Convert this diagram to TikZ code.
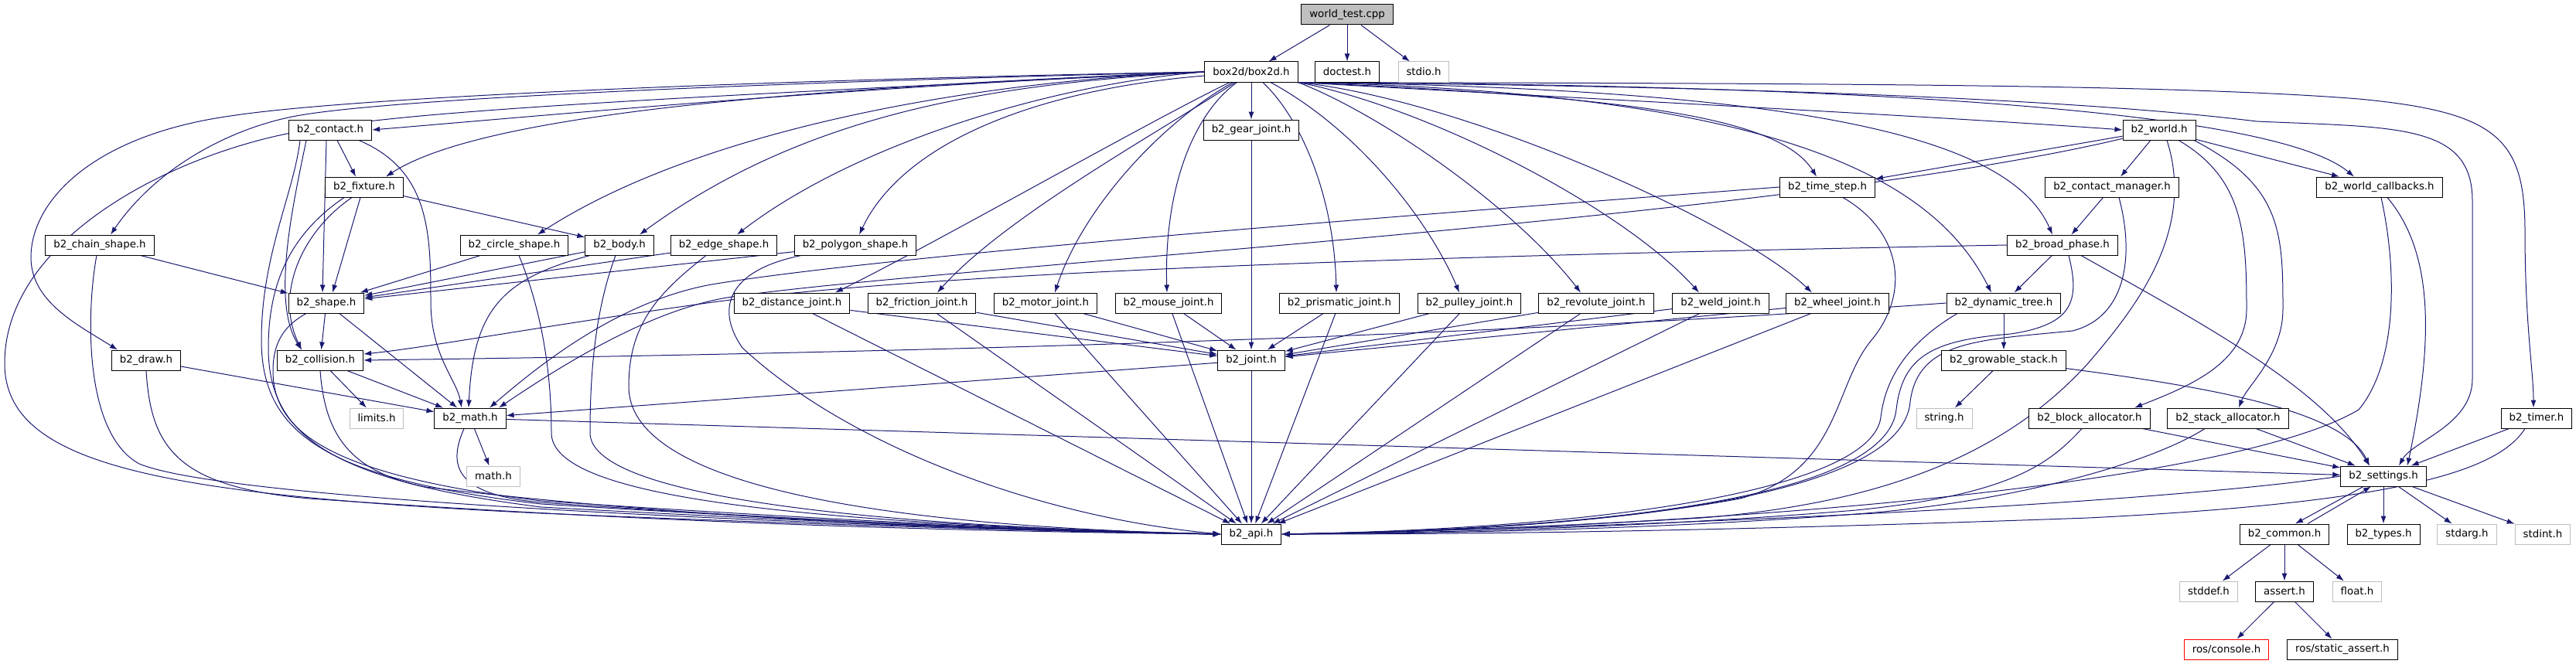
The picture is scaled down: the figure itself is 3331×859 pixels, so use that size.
\documentclass[tikz,border=0pt]{standalone}
\usepackage{fontspec}
\setmainfont{DejaVu Sans}
\usetikzlibrary{arrows.meta,backgrounds}
\definecolor{edgeblue}{HTML}{191970}
\definecolor{sysgray}{HTML}{BFBFBF}

\begin{document}
\begin{tikzpicture}[x=1pt, y=-1pt,
  hdr/.style={draw=black, line width=1pt, fill=white, font=\fontsize{13.33}{15}\selectfont, inner xsep=10.5pt, inner ysep=0pt, minimum height=26pt},
  sys/.style={hdr, draw=sysgray},
  inc/.style={draw=edgeblue, line width=1pt, -{Latex[length=10pt,width=7pt]}}]
\useasboundingbox (0,0) rectangle (3331,859);

\node[hdr, fill=sysgray] (wt) at (1742,19) {world\_test.cpp};
\node[hdr] (bx) at (1618,93) {box2d/box2d.h};
\node[hdr] (doc) at (1742,93) {doctest.h};
\node[sys] (stdio) at (1841,93) {stdio.h};

\node[hdr] (contact) at (427,168) {b2\_contact.h};
\node[hdr] (gear) at (1618,168) {b2\_gear\_joint.h};
\node[hdr] (world) at (2792,168) {b2\_world.h};

\node[hdr] (fixture) at (471,242) {b2\_fixture.h};
\node[hdr] (tstep) at (2363,242) {b2\_time\_step.h};
\node[hdr] (cmgr) at (2731,242) {b2\_contact\_manager.h};
\node[hdr] (wcb) at (3077,242) {b2\_world\_callbacks.h};

\node[hdr] (chain) at (129,317) {b2\_chain\_shape.h};
\node[hdr] (circle) at (665,317) {b2\_circle\_shape.h};
\node[hdr] (body) at (801,317) {b2\_body.h};
\node[hdr] (edge) at (936,317) {b2\_edge\_shape.h};
\node[hdr] (poly) at (1106,317) {b2\_polygon\_shape.h};
\node[hdr] (bphase) at (2667,317) {b2\_broad\_phase.h};

\node[hdr] (shape) at (422,392) {b2\_shape.h};
\node[hdr] (dist) at (1024,392) {b2\_distance\_joint.h};
\node[hdr] (fric) at (1192,392) {b2\_friction\_joint.h};
\node[hdr] (motor) at (1352,392) {b2\_motor\_joint.h};
\node[hdr] (mouse) at (1511,392) {b2\_mouse\_joint.h};
\node[hdr] (prism) at (1732,392) {b2\_prismatic\_joint.h};
\node[hdr] (pulley) at (1900,392) {b2\_pulley\_joint.h};
\node[hdr] (revol) at (2064,392) {b2\_revolute\_joint.h};
\node[hdr] (weld) at (2225,392) {b2\_weld\_joint.h};
\node[hdr] (wheel) at (2376,392) {b2\_wheel\_joint.h};
\node[hdr] (dtree) at (2591,392) {b2\_dynamic\_tree.h};

\node[hdr] (draw) at (189,466) {b2\_draw.h};
\node[hdr] (coll) at (414,466) {b2\_collision.h};
\node[hdr] (joint) at (1618,466) {b2\_joint.h};
\node[hdr] (gstack) at (2591,466) {b2\_growable\_stack.h};

\node[sys] (limits) at (487,541) {limits.h};
\node[hdr] (math) at (608,541) {b2\_math.h};
\node[sys] (string) at (2514,541) {string.h};
\node[hdr] (balloc) at (2702,541) {b2\_block\_allocator.h};
\node[hdr] (salloc) at (2881,541) {b2\_stack\_allocator.h};
\node[hdr] (timer) at (3280,541) {b2\_timer.h};

\node[sys] (mathh) at (638,616) {math.h};
\node[hdr] (settings) at (3082,616) {b2\_settings.h};

\node[hdr] (api) at (1618,691) {b2\_api.h};
\node[hdr] (common) at (2954,691) {b2\_common.h};
\node[hdr] (types) at (3082,691) {b2\_types.h};
\node[sys] (stdarg) at (3190,691) {stdarg.h};
\node[sys] (stdint) at (3288,691) {stdint.h};

\node[sys] (stddef) at (2856,765) {stddef.h};
\node[hdr] (assert) at (2954,765) {assert.h};
\node[sys] (float) at (3048,765) {float.h};

\node[hdr, draw=red] (console) at (2879,840) {ros/console.h};
\node[hdr] (sassert) at (3029,840) {ros/static\_assert.h};

\begin{scope}[on background layer]
\draw[inc] (wt) -- (bx);
\draw[inc] (wt) -- (doc);
\draw[inc] (wt) -- (stdio);

\draw[inc] (bx.west) .. controls (1100,112) and (700,150) .. (contact.east);
\draw[inc] (bx.west) .. controls (1000,115) and (620,150) .. ([xshift=28pt]fixture.north);
\draw[inc] (bx.west) .. controls (1000,106) and (480,128) .. (373,152) .. controls (290,170) and (200,220) .. ([xshift=14pt]chain.north);
\draw[inc] (bx.west) .. controls (1000,103) and (460,125) .. (298,150) .. controls (120,175) and (40,260) .. (40,333) .. controls (40,390) and (100,420) .. ([xshift=-37pt]draw.north);
\draw[inc] (bx.west) .. controls (1000,120) and (560,140) .. (420,165) .. controls (250,185) and (6,300) .. (6,470) .. controls (6,600) and (200,640) .. (700,664) .. controls (1100,681) and (1400,688) .. (api.west);
\draw[inc] (bx.west) .. controls (1250,105) and (900,170) .. ([xshift=30pt]circle.north);
\draw[inc] (bx.west) .. controls (1300,108) and (1050,140) .. ([xshift=26pt]body.north);
\draw[inc] (bx.west) .. controls (1350,110) and (1100,190) .. ([xshift=17pt]edge.north);
\draw[inc] (bx) .. controls (1350,115) and (1170,180) .. ([xshift=5pt]poly.north);
\draw[inc] (bx) .. controls (1480,160) and (1200,320) .. ([xshift=56pt]dist.north);
\draw[inc] (bx) .. controls (1500,170) and (1300,280) .. ([xshift=20pt]fric.north);
\draw[inc] (bx) .. controls (1500,160) and (1400,270) .. ([xshift=12pt]motor.north);
\draw[inc] (bx) .. controls (1540,150) and (1505,250) .. ([xshift=-2pt]mouse.north);
\draw[inc] (bx) -- (gear);
\draw[inc] (bx) .. controls (1680,150) and (1725,250) .. ([xshift=-4pt]prism.north);
\draw[inc] (bx) .. controls (1760,170) and (1850,290) .. ([xshift=-13pt]pulley.north);
\draw[inc] (bx.south east) .. controls (1790,150) and (1960,270) .. ([xshift=-20pt]revol.north);
\draw[inc] (bx.south east) .. controls (1850,140) and (2100,270) .. ([xshift=-28pt]weld.north);
\draw[inc] (bx.south east) .. controls (1900,130) and (2250,290) .. ([xshift=-33pt]wheel.north);
\draw[inc] (bx.south east) .. controls (2100,125) and (2300,150) .. ([xshift=-14pt]tstep.north);
\draw[inc] (bx.south east) .. controls (2300,120) and (2500,230) .. ([xshift=-16pt]dtree.north);
\draw[inc] (bx.south east) .. controls (2350,115) and (2600,180) .. ([xshift=-13pt]bphase.north);
\draw[inc] (bx.south east) .. controls (2000,125) and (2500,150) .. (world.west);
\draw[inc] (bx.south east) .. controls (2500,110) and (2950,150) .. ([xshift=-33pt]wcb.north);
\draw[inc] (bx.south east) .. controls (2300,112) and (2700,130) .. (2918,157) .. controls (3100,165) and (3197,160) .. (3197,260) -- (3197,490) .. controls (3197,550) and (3120,570) .. ([xshift=20pt]settings.north);
\draw[inc] (bx.south east) .. controls (2300,108) and (2800,108) .. (3050,128) .. controls (3230,145) and (3265,180) .. (3265,300) .. controls (3265,420) and (3276,480) .. ([xshift=-4pt]timer.north);

\draw[inc] ([xshift=9pt]contact.south) -- ([xshift=-11pt]fixture.north);
\draw[inc] ([xshift=-5pt]contact.south) -- ([xshift=-5pt]shape.north);
\draw[inc] ([xshift=-31pt]contact.south) .. controls (380,260) and (350,390) .. ([xshift=-24pt]coll.north);
\draw[inc] ([xshift=37pt]contact.south) .. controls (555,220) and (557,300) .. (557,390) .. controls (557,460) and (590,490) .. ([xshift=-11pt]math.north);
\draw[inc] ([xshift=-39pt]contact.south) .. controls (380,250) and (338,330) .. (338,440) .. controls (338,560) and (420,620) .. (700,652) .. controls (1100,677) and (1400,688) .. (api.west);

\draw[inc] (fixture) -- (body);
\draw[inc] ([xshift=-5pt]fixture.south) -- ([xshift=8pt]shape.north);
\draw[inc] ([xshift=-16pt]fixture.south) .. controls (390,300) and (355,380) .. ([xshift=-24pt]coll.north);
\draw[inc] ([xshift=-26pt]fixture.south) .. controls (380,300) and (347,360) .. (347,450) .. controls (347,565) and (430,622) .. (700,656) .. controls (1100,678) and (1400,688) .. (api.west);

\draw[inc] (chain) -- (shape);
\draw[inc] ([xshift=-4pt]chain.south) .. controls (112,400) and (107,560) .. (180,600) .. controls (300,650) and (1100,682) .. (api.west);
\draw[inc] (draw) -- (math);
\draw[inc] (draw.south) .. controls (195,580) and (230,630) .. (400,645) .. controls (900,680) and (1300,688) .. (api.west);

\draw[inc] (shape) -- (coll);
\draw[inc] (shape) -- (math);
\draw[inc] ([xshift=-26pt]shape.south) .. controls (370,420) and (353,440) .. (353,480) .. controls (353,560) and (430,615) .. (700,648) .. controls (1100,675) and (1400,688) .. (api.west);
\draw[inc] (coll) -- (limits);
\draw[inc] (coll) -- (math);
\draw[inc] (coll.south) .. controls (420,560) and (450,610) .. (550,630) .. controls (900,672) and (1300,688) .. (api.west);

\draw[inc] (circle) -- (shape);
\draw[inc] ([xshift=6pt]circle.south) .. controls (700,400) and (713,480) .. (713,560) .. controls (713,640) and (1000,676) .. (api.west);
\draw[inc] (body) -- (shape);
\draw[inc] ([xshift=-38pt]body.south) .. controls (650,360) and (612,400) .. ([xshift=-2pt]math.north);
\draw[inc] ([xshift=-5pt]body.south) .. controls (770,400) and (763,480) .. (763,560) .. controls (763,640) and (1100,680) .. (api.west);
\draw[inc] (edge) -- (shape);
\draw[inc] ([xshift=-23pt]edge.south) .. controls (850,380) and (813,420) .. (813,500) .. controls (813,620) and (1100,680) .. (api.west);
\draw[inc] (poly) -- (shape);
\draw[inc] ([xshift=-70pt]poly.south) .. controls (940,350) and (925,400) .. (960,450) .. controls (1100,580) and (1350,670) .. (api.west);

\draw[inc] (math) -- (mathh);
\draw[inc] (math) -- (settings);
\draw[inc] ([xshift=-8pt]math.south) .. controls (580,600) and (585,640) .. (700,650) .. controls (1100,678) and (1400,688) .. (api.west);

\draw[inc] (dist) -- (joint);
\draw[inc] (dist) -- (api);
\draw[inc] (fric) -- (joint);
\draw[inc] (fric) -- (api);
\draw[inc] (motor) -- (joint);
\draw[inc] (motor) -- (api);
\draw[inc] (mouse) -- (joint);
\draw[inc] (mouse) -- (api);
\draw[inc] (gear) -- (joint);
\draw[inc] (prism) -- (joint);
\draw[inc] (prism) -- (api);
\draw[inc] (pulley) -- (joint);
\draw[inc] (pulley) -- (api);
\draw[inc] (revol) -- (joint);
\draw[inc] (revol) -- (api);
\draw[inc] (weld) -- (joint);
\draw[inc] (weld) -- (api);
\draw[inc] (wheel) -- (joint);
\draw[inc] (wheel) -- (api);
\draw[inc] (joint) -- (math);
\draw[inc] (joint) -- (api);

\draw[inc] (tstep.west) .. controls (1800,280) and (1150,330) .. (920,368) .. controls (800,390) and (700,470) .. ([xshift=25pt]math.north);
\draw[inc] ([xshift=20pt]tstep.south) .. controls (2460,300) and (2470,380) .. (2420,440) .. controls (2370,500) and (2380,610) .. (2250,645) .. controls (2050,682) and (1800,690) .. (api.east);

\draw[inc] (world) -- (tstep);
\draw[inc] (world) .. controls (2300,285) and (1200,345) .. (940,385) .. controls (840,402) and (730,470) .. ([xshift=37pt]math.north);
\draw[inc] (world) -- (cmgr);
\draw[inc] (world) -- (wcb);
\draw[inc] ([xshift=25pt]world.south) .. controls (2900,230) and (2905,300) .. (2905,400) .. controls (2905,470) and (2830,500) .. ([xshift=58pt]balloc.north);
\draw[inc] ([xshift=45pt]world.south) .. controls (2950,240) and (2952,300) .. (2952,400) .. controls (2952,460) and (2905,500) .. ([xshift=14pt]salloc.north);
\draw[inc] ([xshift=10pt]world.south) .. controls (2840,300) and (2760,400) .. (2700,470) .. controls (2600,580) and (2450,650) .. (2200,670) .. controls (1950,685) and (1750,690) .. (api.east);

\draw[inc] (cmgr) -- (bphase);
\draw[inc] ([xshift=9pt]cmgr.south) .. controls (2760,330) and (2750,410) .. (2680,428) .. controls (2560,440) and (2480,440) .. (2470,520) .. controls (2460,640) and (2100,685) .. (api.east);

\draw[inc] (bphase.west) .. controls (1900,330) and (1200,350) .. (900,394) .. controls (700,422) and (550,450) .. ([yshift=8pt]coll.east);
\draw[inc] (bphase) -- (dtree);
\draw[inc] ([xshift=8pt]bphase.south) .. controls (2690,390) and (2680,420) .. (2600,432) .. controls (2500,440) and (2460,460) .. (2452,530) .. controls (2440,640) and (2100,684) .. (api.east);
\draw[inc] (bphase) .. controls (2850,420) and (3000,500) .. ([xshift=-18pt]settings.north);

\draw[inc] (dtree.west) .. controls (2000,430) and (1300,455) .. (coll.east);
\draw[inc] (dtree) -- (gstack);
\draw[inc] ([xshift=-60pt]dtree.south) .. controls (2490,430) and (2440,470) .. (2432,540) .. controls (2420,630) and (2100,683) .. (api.east);

\draw[inc] (gstack) -- (string);
\draw[inc] (gstack) .. controls (2850,500) and (3030,530) .. ([xshift=-18pt]settings.north);

\draw[inc] (balloc) -- (settings);
\draw[inc] ([xshift=-10pt]balloc.south) .. controls (2650,600) and (2600,640) .. (2400,660) .. controls (2100,685) and (1800,690) .. (api.east);
\draw[inc] (salloc) -- (settings);
\draw[inc] ([xshift=-30pt]salloc.south) .. controls (2780,600) and (2600,650) .. (2400,665) .. controls (2100,688) and (1800,690) .. (api.east);

\draw[inc] ([xshift=10pt]wcb.south) .. controls (3150,330) and (3145,450) .. ([xshift=31pt]settings.north);
\draw[inc] ([xshift=2pt]wcb.south) .. controls (3100,350) and (3100,470) .. (3050,530) .. controls (2900,620) and (2300,680) .. (api.east);

\draw[inc] (timer) -- (settings);
\draw[inc] ([xshift=-15pt]timer.south) .. controls (3230,610) and (3100,650) .. (2700,670) .. controls (2200,688) and (1900,691) .. (api.east);

\draw[inc] ([xshift=-26pt]settings.south) -- ([xshift=14pt]common.north);
\draw[inc] ([xshift=30pt]common.north) -- ([xshift=-16pt]settings.south);
\draw[inc] (settings) -- (types);
\draw[inc] (settings) -- (stdarg);
\draw[inc] (settings) -- (stdint);
\draw[inc] (settings.west) .. controls (2800,650) and (2200,680) .. (api.east);

\draw[inc] (common) -- (stddef);
\draw[inc] (common) -- (assert);
\draw[inc] (common) -- (float);
\draw[inc] (assert) -- (console);
\draw[inc] (assert) -- (sassert);
\end{scope}
\end{tikzpicture}
\end{document}
